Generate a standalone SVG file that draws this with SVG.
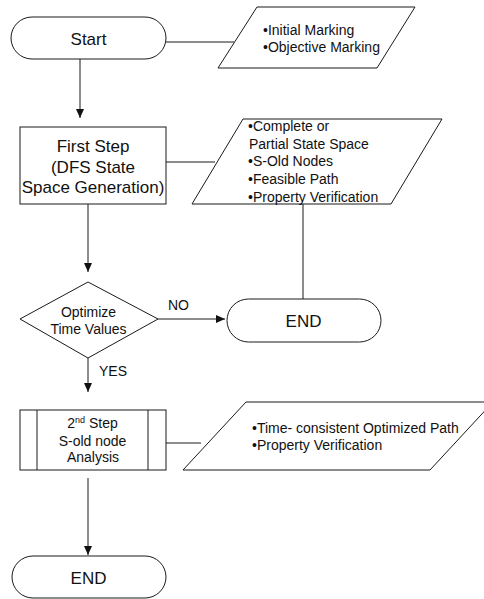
<svg xmlns="http://www.w3.org/2000/svg" width="484" height="599" viewBox="0 0 484 599">
<style>
.s{fill:#fff;stroke:#1a1a1a;stroke-width:1}
.c{fill:none;stroke:#1a1a1a;stroke-width:1}
text{font-family:"Liberation Sans",Arial,sans-serif;fill:#111}
.big{font-size:17px;text-anchor:middle}
.mid{font-size:14px;text-anchor:middle}
.lft{font-size:14px}
</style>
<defs>
<marker id="ah" markerUnits="userSpaceOnUse" markerWidth="10" markerHeight="10" viewBox="0 0 10 10" refX="9" refY="5" orient="auto">
<path d="M0,1 L9,5 L0,9 Z" fill="#111"/>
</marker>
</defs>
<rect width="484" height="599" fill="#fff"/>
<g id="connectors">
<path class="c" d="M80,59 L80,118" marker-end="url(#ah)"/>
<path class="c" d="M166,42 L234,42"/>
<path class="c" d="M166,162 L215,162"/>
<path class="c" d="M88,204 L88,272" marker-end="url(#ah)"/>
<path class="c" d="M303,204 L303,299"/>
<path class="c" d="M158,319 L225,319" marker-end="url(#ah)"/>
<path class="c" d="M88,358 L88,392" marker-end="url(#ah)"/>
<path class="c" d="M166,443 L201,443"/>
<path class="c" d="M88,478 L88,555" marker-end="url(#ah)"/>
<text class="lft" x="168" y="310">NO</text>
<text class="lft" x="99" y="376">YES</text>
</g>
<g id="start">
<rect class="s" x="11" y="17" width="155" height="42" rx="21" ry="21"/>
<text class="big" x="88.5" y="44.5">Start</text>
</g>
<g id="input1">
<polygon class="s" points="257,7 415,7 377,68 218,68"/>
<text class="lft" x="263" y="35">•Initial Marking</text>
<text class="lft" x="263" y="52.3">•Objective Marking</text>
</g>
<g id="firststep">
<rect class="s" x="20" y="127" width="146" height="77"/>
<text class="big" x="93" y="152">First Step</text>
<text class="big" x="93" y="172.5">(DFS State</text>
<text class="big" x="93" y="193">Space Generation)</text>
</g>
<g id="output1">
<polygon class="s" points="243,119 442,119 391,204 192,204"/>
<text class="lft" x="248" y="131">•Complete or</text>
<text class="lft" x="249" y="148.7">Partial State Space</text>
<text class="lft" x="248" y="166.4">•S-Old Nodes</text>
<text class="lft" x="248" y="184.1">•Feasible Path</text>
<text class="lft" x="248" y="201.8">•Property Verification</text>
</g>
<g id="decision">
<polygon class="s" points="88,282 158,319 88,358 20,319"/>
<text class="mid" x="88.5" y="316.7">Optimize</text>
<text class="mid" x="88.5" y="334.3">Time Values</text>
</g>
<g id="end1">
<rect class="s" x="227" y="299" width="154" height="43" rx="21.5" ry="21.5"/>
<text class="big" x="303.5" y="326.7">END</text>
</g>
<g id="secondstep">
<rect class="s" x="20" y="410" width="146" height="60"/>
<line class="c" x1="37" y1="410" x2="37" y2="470"/>
<line class="c" x1="148" y1="410" x2="148" y2="470"/>
<text class="mid" x="92.5" y="428.3">2<tspan font-size="9" dy="-5">nd</tspan><tspan dy="5"> Step</tspan></text>
<text class="mid" x="92.5" y="445.7">S-old node</text>
<text class="mid" x="93" y="462.3">Analysis</text>
</g>
<g id="output2">
<polygon class="s" points="246,402 493,402 430,470 183,470"/>
<text class="lft" x="252" y="432.7">•Time- consistent Optimized Path</text>
<text class="lft" x="252" y="449.7">•Property Verification</text>
</g>
<g id="end2">
<rect class="s" x="12" y="556" width="154" height="42" rx="21" ry="21"/>
<text class="big" x="88.5" y="584.3">END</text>
</g>
</svg>
